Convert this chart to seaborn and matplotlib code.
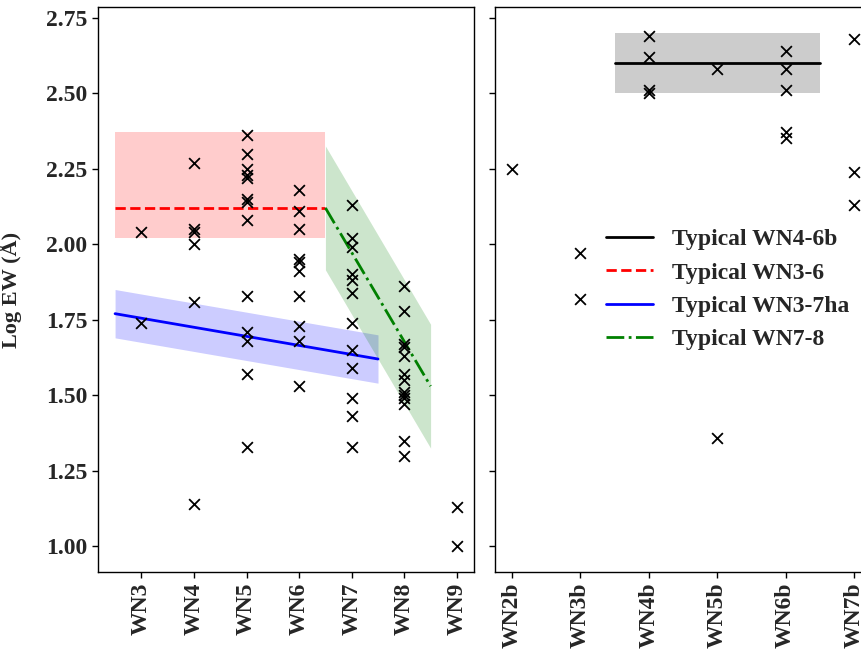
import matplotlib
matplotlib.use("Agg")
import matplotlib.pyplot as plt
import numpy as np
import pandas as pd
import seaborn as sns

# Spectral subclasses (narrow-line and broad-line WN stars)
wn_classes = ["WN3", "WN4", "WN5", "WN6", "WN7", "WN8", "WN9"]
wnb_classes = ["WN2b", "WN3b", "WN4b", "WN5b", "WN6b", "WN7b"]

# Log equivalent widths per subclass
ew_wn3 = [2.04, 1.74]
ew_wn4 = [2.27, 2.05, 2.04, 2.00, 1.81, 1.14]
ew_wn5 = [2.36, 2.30, 2.25, 2.23, 2.22, 2.15, 2.14, 2.08, 1.83, 1.71, 1.68, 1.57, 1.33]
ew_wn6 = [2.18, 2.11, 2.05, 1.95, 1.94, 1.91, 1.83, 1.73, 1.68, 1.53]
ew_wn7 = [2.13, 2.02, 1.99, 1.90, 1.88, 1.84, 1.74, 1.65, 1.59, 1.49, 1.43, 1.33]
ew_wn8 = [1.86, 1.78, 1.67, 1.66, 1.63, 1.57, 1.55, 1.51, 1.50, 1.49, 1.47, 1.35, 1.30]
ew_wn9 = [1.13, 1.00]

ew_wn2b = [2.25]
ew_wn3b = [1.97, 1.82]
ew_wn4b = [2.69, 2.62, 2.51, 2.50]
ew_wn5b = [2.58, 1.36]
ew_wn6b = [2.64, 2.58, 2.51, 2.37, 2.35]
ew_wn7b = [2.68, 2.24, 2.13]

# Typical relations: (x start, x end), (value start, value end), band
wn36_x = [2.5, 6.5]
wn36_y = [2.12, 2.12]
wn36_band = [2.02, 2.37]

wn37ha_x = [2.5, 7.5]
wn37ha_y = [1.77, 1.62]
wn37ha_half = 0.08

wn78_x = [6.5, 8.5]
wn78_y = [2.12, 1.53]
wn78_half = 0.205

wn46b_x = [3.5, 6.5]
wn46b_y = [2.60, 2.60]
wn46b_band = [2.50, 2.70]


def long_table(classes, values, start):
    rows = []
    for i, (c, vals) in enumerate(zip(classes, values)):
        for v in vals:
            rows.append({"pos": start + i, "cls": c, "logew": v})
    return pd.DataFrame(rows)


wn_df = long_table(wn_classes, [ew_wn3, ew_wn4, ew_wn5, ew_wn6, ew_wn7, ew_wn8, ew_wn9], 3)
wnb_df = long_table(wnb_classes, [ew_wn2b, ew_wn3b, ew_wn4b, ew_wn5b, ew_wn6b, ew_wn7b], 2)

sns.set_style("ticks")
plt.rcParams["font.family"] = ["Liberation Serif", "DejaVu Serif"]
plt.rcParams["font.weight"] = "bold"
plt.rcParams["axes.labelweight"] = "bold"

fig = plt.figure(figsize=(8.61, 6.55), dpi=100)
ax1 = fig.add_axes([0.1138, 0.1267, 0.4367, 0.8626])
ax2 = fig.add_axes([0.5749, 0.1267, 0.4367, 0.8626], sharey=ax1)

# Left panel: narrow-line stars
ax1.fill_between(wn36_x, wn36_band[0], wn36_band[1], color="red", alpha=0.2, lw=0)
l36, = ax1.plot(wn36_x, wn36_y, color="red", ls="--", lw=2, label="Typical WN3-6")

y37 = np.array(wn37ha_y)
ax1.fill_between(wn37ha_x, y37 - wn37ha_half, y37 + wn37ha_half, color="blue", alpha=0.2, lw=0)
l37, = ax1.plot(wn37ha_x, wn37ha_y, color="blue", lw=2, label="Typical WN3-7ha")

y78 = np.array(wn78_y)
ax1.fill_between(wn78_x, y78 - wn78_half, y78 + wn78_half, color="green", alpha=0.2, lw=0)
l78, = ax1.plot(wn78_x, wn78_y, color="green", ls="-.", lw=2, label="Typical WN7-8")

sns.scatterplot(data=wn_df, x="pos", y="logew", marker="x", color="black",
                s=60, linewidth=1.3, ax=ax1, zorder=3, legend=False)

# Right panel: broad-line stars
ax2.fill_between(wn46b_x, wn46b_band[0], wn46b_band[1], color="gray", alpha=0.4, lw=0)
l46, = ax2.plot(wn46b_x, wn46b_y, color="black", lw=2, label="Typical WN4-6b")
sns.scatterplot(data=wnb_df, x="pos", y="logew", marker="x", color="black",
                s=60, linewidth=1.3, ax=ax2, zorder=3, legend=False)

fs = 17
ax1.set_xticks(range(3, 3 + len(wn_classes)))
ax1.set_xticklabels(wn_classes, rotation=90, fontsize=fs, fontweight="bold")
ax2.set_xticks(range(2, 2 + len(wnb_classes)))
ax2.set_xticklabels(wnb_classes, rotation=90, fontsize=fs, fontweight="bold")

ax1.set_yticks([1.00, 1.25, 1.50, 1.75, 2.00, 2.25, 2.50, 2.75])
ax1.set_yticklabels([f"{t:.2f}" for t in ax1.get_yticks()], fontsize=fs, fontweight="bold")
ax2.tick_params(axis="y", labelleft=False)

ax1.set_xlabel("")
ax2.set_xlabel("")
ax1.set_ylabel("Log EW (Å)", fontsize=16, fontweight="bold")
ax1.yaxis.set_label_coords(-0.203, 0.5)
ax2.set_ylabel("")

for ax in (ax1, ax2):
    for sp in ax.spines.values():
        sp.set_visible(True)
        sp.set_color("black")
        sp.set_linewidth(1.0)
    ax.tick_params(color="black", length=4, width=1)

ax2.legend(handles=[l46, l36, l37, l78], loc="center right", frameon=False,
           prop={"size": fs, "weight": "bold"})

fig.savefig("out.png", dpi=100)
